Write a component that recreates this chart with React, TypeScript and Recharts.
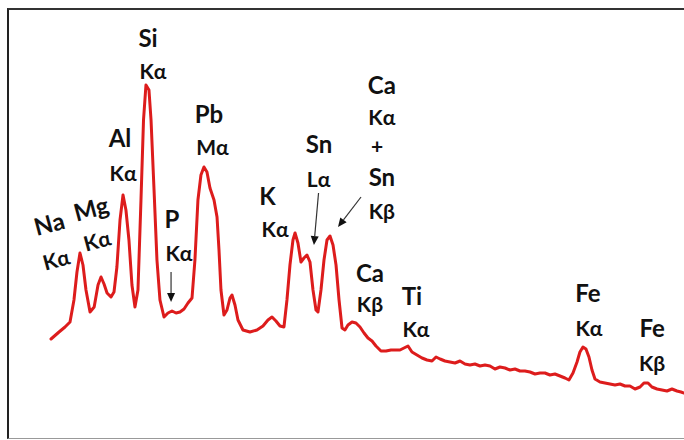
import React from 'react';
import { LineChart, Line, XAxis, YAxis, ReferenceDot, ReferenceLine } from 'recharts';

// Energy (keV) of spectrum samples
const energy = [
  0.730, 0.815, 0.879, 0.932, 0.974, 1.006, 1.038, 1.070, 1.102, 1.145,
  1.189, 1.230, 1.262, 1.294, 1.326, 1.368, 1.400, 1.431, 1.464, 1.496,
  1.527, 1.559, 1.591, 1.623, 1.655, 1.687, 1.714, 1.740, 1.772, 1.794,
  1.826, 1.857, 1.889, 1.932, 1.974, 2.017, 2.060, 2.102, 2.145, 2.187,
  2.230, 2.261, 2.293, 2.325, 2.357, 2.389, 2.421, 2.464, 2.496, 2.517,
  2.538, 2.570, 2.602, 2.634, 2.655, 2.687, 2.719, 2.772, 2.846, 2.921,
  2.985, 3.038, 3.081, 3.123, 3.166, 3.208, 3.240, 3.272, 3.304, 3.326,
  3.357, 3.389, 3.421, 3.453, 3.485, 3.517, 3.549, 3.570, 3.602, 3.634,
  3.666, 3.698, 3.730, 3.762, 3.794, 3.826, 3.857, 3.889, 3.932, 3.974,
  4.017, 4.060, 4.102, 4.145, 4.187, 4.240, 4.294, 4.347, 4.400, 4.443,
  4.485, 4.528, 4.570, 4.623, 4.677, 4.730, 4.783, 4.826, 4.869, 4.921,
  4.974, 5.028, 5.081, 5.134, 5.187, 5.240, 5.294, 5.347, 5.400, 5.453,
  5.506, 5.560, 5.613, 5.666, 5.719, 5.772, 5.826, 5.879, 5.932, 5.985,
  6.038, 6.091, 6.145, 6.198, 6.240, 6.283, 6.326, 6.357, 6.389, 6.421,
  6.453, 6.485, 6.517, 6.570, 6.623, 6.677, 6.730, 6.783, 6.836, 6.889,
  6.943, 6.996, 7.038, 7.081, 7.123, 7.177, 7.230, 7.283, 7.336, 7.389,
  7.432, 7.464,
];

// Intensity (counts, arbitrary units)
const counts = [
  1010, 1080, 1130, 1180, 1400, 1680, 1870, 1750, 1500, 1280,
  1330, 1550, 1630, 1560, 1470, 1430, 1480, 1730, 2200, 2450,
  2300, 2000, 1550, 1330, 1500, 2400, 3200, 3550, 3500, 3200,
  2500, 1800, 1400, 1230, 1270, 1290, 1270, 1280, 1310, 1370,
  1420, 1800, 2400, 2650, 2730, 2680, 2520, 2400, 2230, 1900,
  1500, 1250, 1300, 1420, 1450, 1350, 1200, 1100, 1080, 1100,
  1140, 1200, 1230, 1190, 1140, 1130, 1400, 1750, 2000, 2070,
  1970, 1780, 1820, 1850, 1780, 1500, 1300, 1280, 1500, 1800,
  2000, 2040, 1950, 1750, 1400, 1120, 1100, 1150, 1180, 1170,
  1130, 1070, 1020, 990, 940, 890, 890, 900, 900, 900,
  920, 940, 880, 850, 820, 800, 790, 830, 810, 790,
  780, 770, 790, 760, 750, 760, 740, 750, 740, 710,
  730, 720, 700, 710, 690, 690, 680, 660, 670, 670,
  650, 660, 640, 620, 600, 670, 780, 880, 930, 910,
  830, 700, 610, 580, 570, 560, 550, 560, 540, 540,
  510, 530, 570, 570, 530, 510, 500, 490, 510, 490,
  480, 470,
];

// Peak annotation labels
const labelText = [
  'Na', 'Mg', 'Kα', 'Kα',
  'Al', 'Kα', 'Si', 'Kα',
  'Pb', 'Mα', 'P', 'Kα',
  'K', 'Kα', 'Sn', 'Lα',
  'Ca', 'Kα', '+', 'Sn', 'Kβ',
  'Ca', 'Kβ', 'Ti', 'Kα',
  'Fe', 'Kα', 'Fe', 'Kβ',
];
const labelEnergy = [
  0.709, 1.155, 0.783, 1.219,
  1.464, 1.496, 1.762, 1.815,
  2.411, 2.448, 2.017, 2.091,
  3.033, 3.113, 3.581, 3.576,
  4.250, 4.250, 4.200, 4.250, 4.250,
  4.123, 4.123, 4.570, 4.613,
  6.443, 6.453, 7.124, 7.124,
];
const labelCounts = [
  2170, 2320, 1810, 2000,
  3030, 2680, 4030, 3700,
  3270, 2940, 2220, 1880,
  2450, 2120, 2970, 2620,
  3560, 3240, 2950, 2640, 2300,
  1680, 1370, 1450, 1120,
  1480, 1130, 1130, 780,
];
const labelIsElement = [
  true, true, false, false,
  true, false, true, false,
  true, false, true, false,
  true, false, true, false,
  true, false, false, true, false,
  true, false, true, false,
  true, false, true, false,
];
const labelRotation = [
  -15, -15, -15, -15,
  0, 0, 0, 0,
  0, 0, 0, 0,
  0, 0, 0, 0,
  0, 0, 0, 0, 0,
  0, 0, 0, 0,
  0, 0, 0, 0,
];

// Arrows: tail (energy, counts) -> tip (energy, counts)
const arrowFromE = [2.007, 3.576, 4.028];
const arrowFromC = [1680, 2470, 2430];
const arrowToE = [2.007, 3.527, 3.783];
const arrowToC = [1380, 1950, 2130];

const data = energy.map((e, i) => ({ e, c: counts[i] }));

const FONT = 'Lato, "Open Sans", sans-serif';

const makeLabelShape = (text: string, isEl: boolean, rot: number) => (p: any) => {
  const cx = p.cx;
  const cy = p.cy;
  return (
    <text
      x={cx}
      y={cy}
      textAnchor="middle"
      dominantBaseline="central"
      fontFamily={FONT}
      fontWeight={700}
      fontSize={isEl ? 24 : 21}
      fill="#111"
      transform={rot ? `rotate(${rot} ${cx} ${cy})` : undefined}
    >
      {text}
    </text>
  );
};

const arrowShape = (p: any) => {
  const { x1, y1, x2, y2 } = p;
  const dx = x2 - x1;
  const dy = y2 - y1;
  const len = Math.sqrt(dx * dx + dy * dy) || 1;
  const ux = dx / len;
  const uy = dy / len;
  const hl = 9;
  const hw = 4;
  const bx = x2 - ux * hl;
  const by = y2 - uy * hl;
  return (
    <g>
      <line x1={x1} y1={y1} x2={bx} y2={by} stroke="#333" strokeWidth={1.2} />
      <polygon
        points={`${x2},${y2} ${bx - uy * hw},${by + ux * hw} ${bx + uy * hw},${by - ux * hw}`}
        fill="#111"
      />
    </g>
  );
};

export default function App() {
  return (
    <div style={{ position: 'absolute', left: 0, top: 0, width: 684, height: 440, background: '#fff' }}>
      <div
        style={{
          position: 'absolute',
          left: 7,
          top: 8,
          width: 700,
          height: 431,
          borderTop: '2px solid #333',
          borderLeft: '2px solid #222',
          borderBottom: '1px solid #999',
          boxSizing: 'border-box',
        }}
      />
      <div style={{ position: 'absolute', left: 0, top: 0 }}>
        <LineChart width={684} height={440} data={data} margin={{ top: 0, right: 0, bottom: 0, left: 0 }}>
          <XAxis dataKey="e" type="number" domain={[0.1872, 7.4638]} hide />
          <YAxis type="number" domain={[0, 4400]} hide width={0} />
          <Line
            type="linear"
            dataKey="c"
            stroke="#dd1c1c"
            strokeWidth={3}
            dot={false}
            activeDot={false}
            isAnimationActive={false}
            strokeLinejoin="round"
            strokeLinecap="round"
          />
          {arrowFromE.map((_, i) => (
            <ReferenceLine
              key={`a${i}`}
              segment={[
                { x: arrowFromE[i], y: arrowFromC[i] },
                { x: arrowToE[i], y: arrowToC[i] },
              ]}
              shape={arrowShape}
              ifOverflow="visible"
            />
          ))}
          {labelText.map((t, i) => (
            <ReferenceDot
              key={`l${i}`}
              x={labelEnergy[i]}
              y={labelCounts[i]}
              r={0}
              ifOverflow="visible"
              shape={makeLabelShape(t, labelIsElement[i], labelRotation[i])}
            />
          ))}
        </LineChart>
      </div>
    </div>
  );
}
